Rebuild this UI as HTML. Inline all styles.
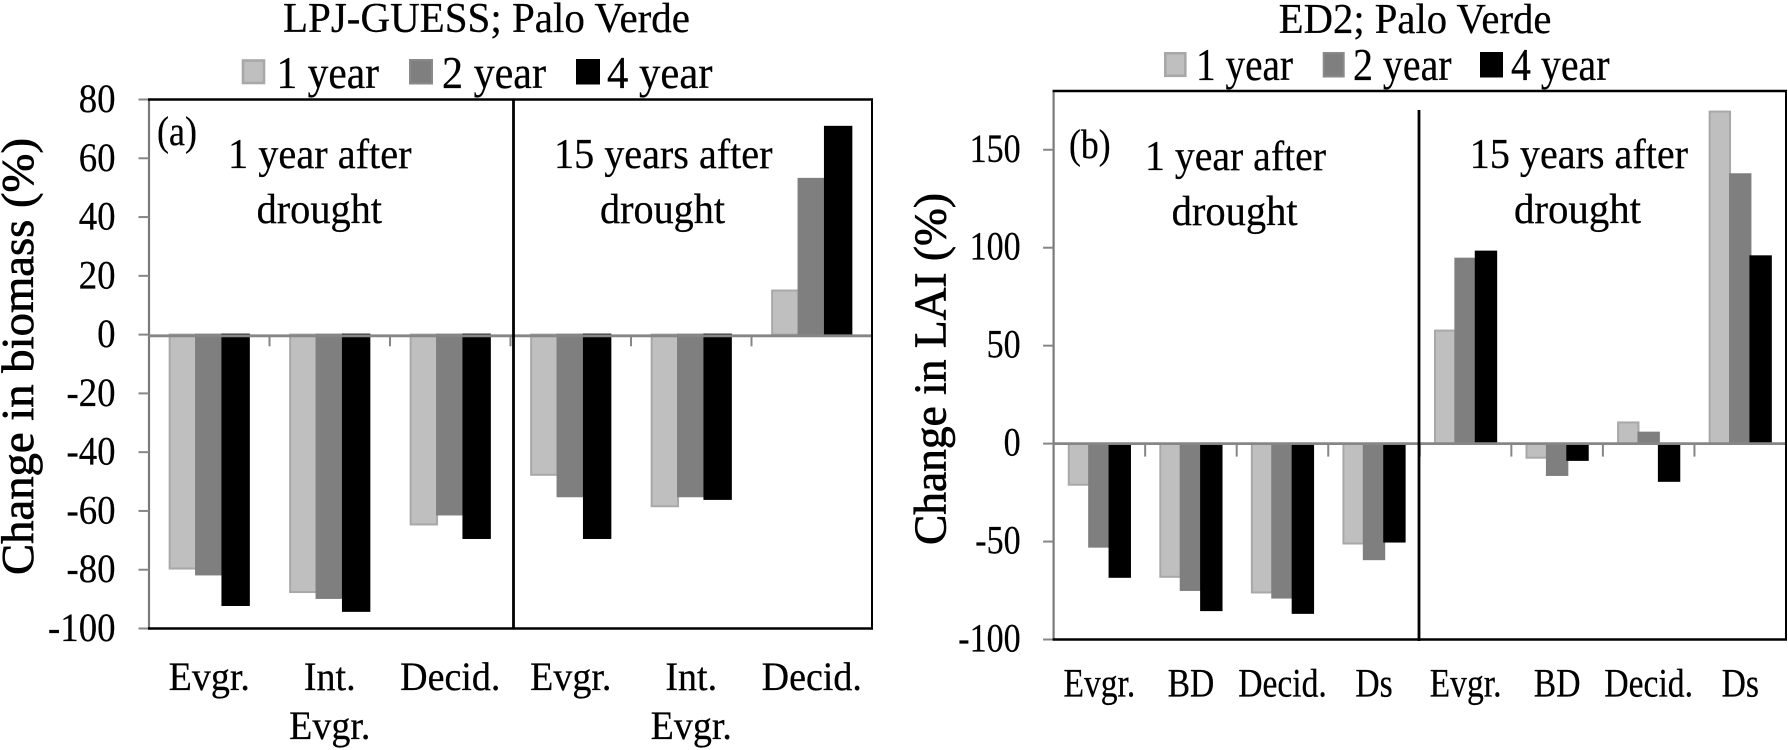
<!DOCTYPE html>
<html lang="en">
<head>
<meta charset="utf-8">
<title>Palo Verde drought response charts</title>
<style>
html,body{margin:0;padding:0;background:#fff;}
svg{display:block;}
text{font-family:"Liberation Serif",serif;fill:#000;stroke:#000;stroke-width:.25;}
.axis-title{stroke-width:.7;}
</style>
</head>
<body>
<svg id="figure" width="1788" height="750" viewBox="0 0 1788 750" xmlns="http://www.w3.org/2000/svg">
  <rect width="1788" height="750" fill="#fff"/>

  <g id="chart-a"></g>
  <g id="chart-b"></g>

  <!-- Left chart static text -->
  <text x="283" y="32" font-size="42" textLength="407" lengthAdjust="spacingAndGlyphs">LPJ-GUESS; Palo Verde</text>
  <g>
    <rect x="243" y="60.5" width="21" height="22.5" fill="#bfbfbf" stroke="#a8a8a8" stroke-width="2.6"/>
    <text x="276.5" y="88" font-size="46" textLength="102.5" lengthAdjust="spacingAndGlyphs">1 year</text>
    <rect x="410" y="60" width="22" height="23.5" fill="#7f7f7f" stroke="#8a8a8a" stroke-width="2"/>
    <text x="442" y="88" font-size="46" textLength="104" lengthAdjust="spacingAndGlyphs">2 year</text>
    <rect x="577" y="60" width="22" height="23.5" fill="#000" stroke="#000" stroke-width="2"/>
    <text x="607" y="88" font-size="46" textLength="105.5" lengthAdjust="spacingAndGlyphs">4 year</text>
  </g>
  <text x="157" y="145" font-size="41" textLength="40" lengthAdjust="spacingAndGlyphs">(a)</text>
  <text x="228" y="168" font-size="42" textLength="183.6" lengthAdjust="spacingAndGlyphs">1 year after</text>
  <text x="256.6" y="223" font-size="42" textLength="125.4" lengthAdjust="spacingAndGlyphs">drought</text>
  <text x="554" y="168" font-size="42" textLength="218.5" lengthAdjust="spacingAndGlyphs">15 years after</text>
  <text x="600" y="223" font-size="42" textLength="125" lengthAdjust="spacingAndGlyphs">drought</text>
  <text class="axis-title" transform="translate(33,575) rotate(-90)" font-size="46" textLength="437" lengthAdjust="spacingAndGlyphs">Change in biomass (%)</text>

  <!-- Right chart static text -->
  <text x="1278.8" y="33" font-size="42" textLength="272.6" lengthAdjust="spacingAndGlyphs">ED2; Palo Verde</text>
  <g>
    <rect x="1165.3" y="53.3" width="20" height="22.5" fill="#bfbfbf" stroke="#a8a8a8" stroke-width="2.6"/>
    <text x="1196" y="80" font-size="46" textLength="97" lengthAdjust="spacingAndGlyphs">1 year</text>
    <rect x="1323.7" y="53" width="20" height="23.5" fill="#7f7f7f" stroke="#8a8a8a" stroke-width="2"/>
    <text x="1353" y="80" font-size="46" textLength="98.6" lengthAdjust="spacingAndGlyphs">2 year</text>
    <rect x="1481" y="53" width="21" height="23.5" fill="#000" stroke="#000" stroke-width="2"/>
    <text x="1511" y="80" font-size="46" textLength="98.5" lengthAdjust="spacingAndGlyphs">4 year</text>
  </g>
  <text x="1069" y="158" font-size="41" textLength="41.6" lengthAdjust="spacingAndGlyphs">(b)</text>
  <text x="1145" y="170" font-size="42" textLength="181" lengthAdjust="spacingAndGlyphs">1 year after</text>
  <text x="1171.6" y="225" font-size="42" textLength="126" lengthAdjust="spacingAndGlyphs">drought</text>
  <text x="1469.8" y="168" font-size="42" textLength="218.2" lengthAdjust="spacingAndGlyphs">15 years after</text>
  <text x="1514" y="223" font-size="42" textLength="127" lengthAdjust="spacingAndGlyphs">drought</text>
  <text class="axis-title" transform="translate(945.5,545) rotate(-90)" font-size="46" textLength="352" lengthAdjust="spacingAndGlyphs">Change in LAI (%)</text>
</svg>

<script>
// Chart (a): LPJ-GUESS, change in biomass
var biomassCategories = [["Evgr."], ["Int.", "Evgr."], ["Decid."], ["Evgr."], ["Int.", "Evgr."], ["Decid."]];
var biomassOneYear = [-79.6, -87.6, -64.6, -47.7, -58.4, 15];
var biomassTwoYear = [-81.6, -89.6, -61.2, -55, -55, 53];
var biomassFourYear = [-92, -94, -69.2, -69.2, -55.9, 70.7];
var biomassTicks = [80, 60, 40, 20, 0, -20, -40, -60, -80, -100];
var biomassTickLabels = ["80", "60", "40", "20", "0", "-20", "-40", "-60", "-80", "-100"];

// Chart (b): ED2, change in LAI
var laiCategories = [["Evgr."], ["BD"], ["Decid."], ["Ds"], ["Evgr."], ["BD"], ["Decid."], ["Ds"]];
var laiOneYear = [-21, -68, -76, -51, 57.7, -7.2, 10.8, 169.5];
var laiTwoYear = [-52.6, -74.7, -78.6, -59, 94.4, -16, 5.6, 137.5];
var laiFourYear = [-68, -85, -86.4, -50, 98, -8.3, -19, 95.6];
var laiTicks = [150, 100, 50, 0, -50, -100];
var laiTickLabels = ["150", "100", "50", "0", "-50", "-100"];

var SVG_NS = "http://www.w3.org/2000/svg";
var seriesNames = ["1-year", "2-year", "4-year"];
var seriesFills = ["#bfbfbf", "#7f7f7f", "#000000"];
var seriesStrokes = ["#a8a8a8", "#7f7f7f", "#000000"];

function makeLine(parent, x1, y1, x2, y2, color, width) {
  var l = document.createElementNS(SVG_NS, "line");
  l.setAttribute("x1", x1);
  l.setAttribute("y1", y1);
  l.setAttribute("x2", x2);
  l.setAttribute("y2", y2);
  l.setAttribute("stroke", color);
  l.setAttribute("stroke-width", width);
  parent.appendChild(l);
  return l;
}

function makeLabel(parent, x, y, str, anchor, size, scaleX) {
  var t = document.createElementNS(SVG_NS, "text");
  t.setAttribute("transform", "translate(" + x + "," + y + ") scale(" + scaleX + ",1)");
  t.setAttribute("text-anchor", anchor);
  t.setAttribute("font-size", size);
  t.textContent = str;
  parent.appendChild(t);
  return t;
}

function drawChart(root, g, categories, series, ticks, tickLabels) {
  var yScale = function (v) {
    return g.bottom - (v - g.min) * (g.bottom - g.top) / (g.max - g.min);
  };
  var band = (g.right - g.left) / categories.length;
  var xBand = function (i) {
    return g.left + band * i;
  };
  var zero = yScale(0);

  // Bars
  for (var s = 0; s < series.length; s++) {
    var values = series[s];
    for (var i = 0; i < values.length; i++) {
      var v = values[i];
      var bar = document.createElementNS(SVG_NS, "rect");
      var groupStart = xBand(i) + band / 2 - g.barWidth * series.length / 2;
      bar.setAttribute("x", groupStart + s * g.barWidth);
      bar.setAttribute("y", Math.min(yScale(v), zero));
      bar.setAttribute("width", g.barWidth);
      bar.setAttribute("height", Math.abs(yScale(v) - zero));
      bar.setAttribute("fill", seriesFills[s]);
      bar.setAttribute("stroke", seriesStrokes[s]);
      bar.setAttribute("stroke-width", 2);
      
      
      root.appendChild(bar);
    }
  }

  // Y axis line and ticks
  var yAxis = makeLine(root, g.left, g.top, g.left, g.bottom, "#7a7a7a", 2.2);
  
  
  for (var t = 0; t < ticks.length; t++) {
    var ty = yScale(ticks[t]);
    var tick = makeLine(root, g.left - 10.5, ty, g.left, ty, "#868686", 2);
    
    
    var lab = makeLabel(root, g.tickRight, ty + g.tickOffset, tickLabels[t], "end", 40, g.tickScale);
    
    
  }

  // Zero axis with category ticks
  var axisY = zero + g.axisNudge;
  var xAxis = makeLine(root, g.left, axisY, g.right, axisY, "#868686", 2.8);
  
  
  for (var c = 1; c <= categories.length; c++) {
    var cx = xBand(c);
    var ct = makeLine(root, cx, axisY, cx, axisY + g.catTick, "#868686", 2);
    
    
  }

  // Frame
  var top = makeLine(root, g.left - 1, g.top, g.right + 1, g.top, "#000", 2.4);
  
  
  var right = makeLine(root, g.right, g.top, g.right, g.bottom, "#000", 2);
  
  
  var bottom = makeLine(root, g.left - 1, g.bottom, g.right + 1, g.bottom, "#000", 2.4);
  
  
  var divider = makeLine(root, g.dividerX, g.dividerTop, g.dividerX, g.dividerBottom, "#000", 2.8);
  
  

  // Category labels
  for (var k = 0; k < categories.length; k++) {
    for (var ln = 0; ln < categories[k].length; ln++) {
      var catLabel = makeLabel(root, xBand(k) + band / 2, g.catBaseline + ln * g.catLine, categories[k][ln], "middle", 40, g.catScale);
      
      
    }
  }
}

drawChart(
  document.getElementById("chart-a"),
  { left: 149, right: 872, top: 99.5, bottom: 628.5, min: -100, max: 80, barWidth: 26.4, tickRight: 115.5, tickOffset: 12.5,
    tickScale: 0.92, catScale: 0.95, catTick: 10.5, axisNudge: 1.2, dividerX: 513.5, dividerTop: 99.5, dividerBottom: 628.5, catBaseline: 690, catLine: 49 },
  biomassCategories,
  [biomassOneYear, biomassTwoYear, biomassFourYear],
  biomassTicks,
  biomassTickLabels
);

drawChart(
  document.getElementById("chart-b"),
  { left: 1053.6, right: 1786, top: 91, bottom: 639.5, min: -100, max: 180, barWidth: 20.4, tickRight: 1020.6, tickOffset: 12,
    tickScale: 0.85, catScale: 0.84, catTick: 13, axisNudge: 0, dividerX: 1419, dividerTop: 110, dividerBottom: 641, catBaseline: 696.7, catLine: 49 },
  laiCategories,
  [laiOneYear, laiTwoYear, laiFourYear],
  laiTicks,
  laiTickLabels
);
</script>
</body>
</html>
